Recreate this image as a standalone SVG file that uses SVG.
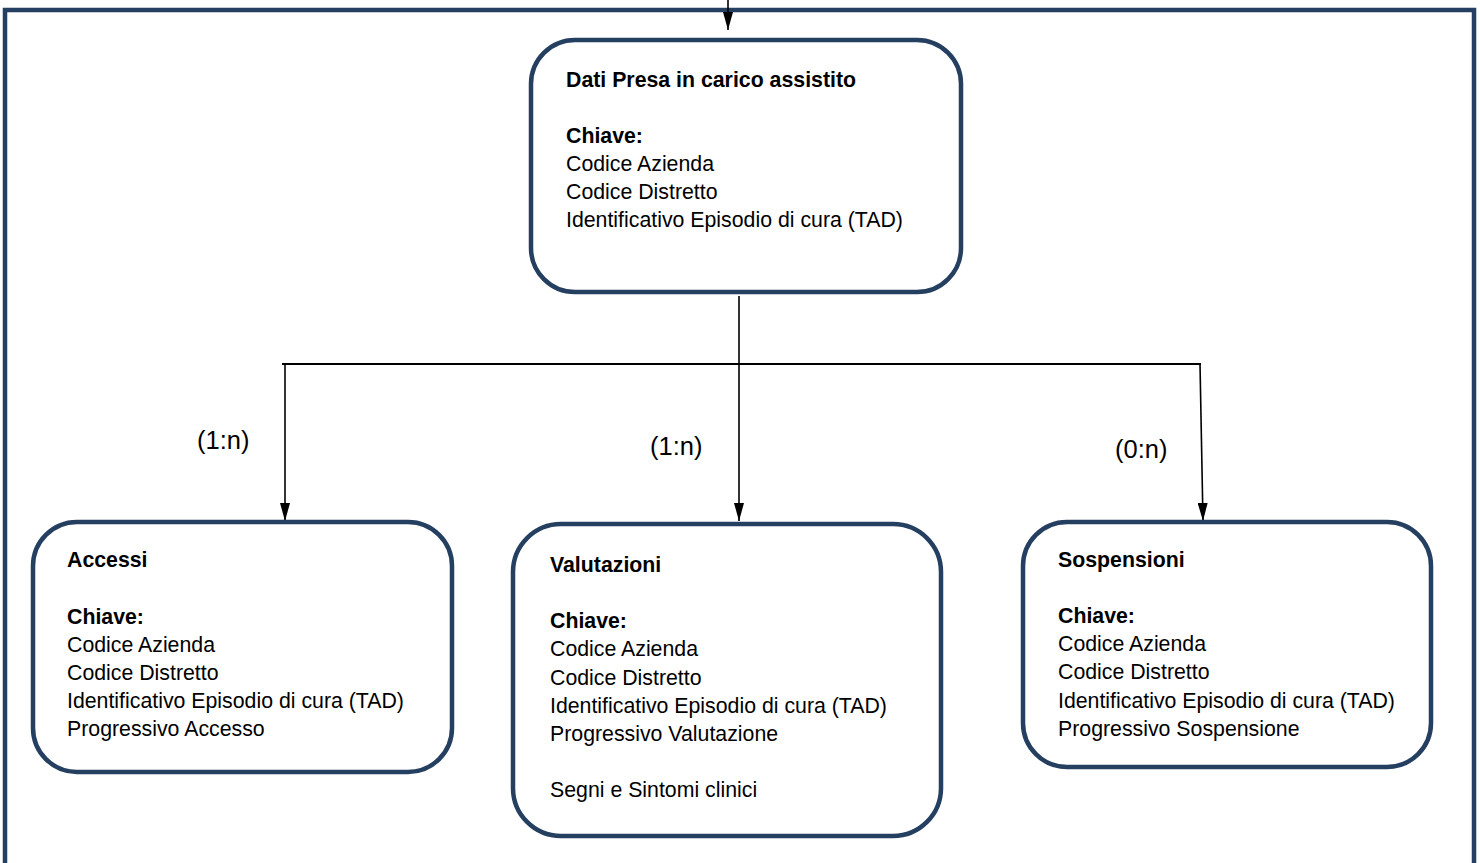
<svg xmlns="http://www.w3.org/2000/svg" width="1480" height="863" viewBox="0 0 1480 863">
<style>
.box{fill:#fff;stroke:#243F60;stroke-width:4.5}
.t{font-family:"Liberation Sans",Arial,sans-serif;font-size:21.3px;fill:#000}
.b{font-weight:bold}
.lbl{font-size:25.5px}
.ln{stroke:#000;stroke-width:1.6;fill:none}
.lh{stroke:#000;stroke-width:2.2;fill:none}
</style>
<defs>
<marker id="ah" viewBox="0 0 18 10" refX="18" refY="5" markerWidth="18" markerHeight="10" markerUnits="userSpaceOnUse" orient="auto">
<path d="M0,0 L18,5 L0,10 z" fill="#000"/>
</marker>
</defs>
<rect x="5" y="10" width="1469" height="880" fill="#fff" stroke="#243F60" stroke-width="4.5"/>
<g id="connectors">
<line class="ln" x1="728" y1="0" x2="728" y2="30" marker-end="url(#ah)"/>
<line class="ln" x1="739" y1="296" x2="739" y2="521" marker-end="url(#ah)"/>
<line class="lh" x1="282" y1="364" x2="1201" y2="364"/>
<line class="ln" x1="285" y1="364" x2="285" y2="521" marker-end="url(#ah)"/>
<line class="ln" x1="1200" y1="364" x2="1203" y2="521" marker-end="url(#ah)"/>
<text class="t lbl" x="197" y="449">(1:n)</text>
<text class="t lbl" x="650" y="455">(1:n)</text>
<text class="t lbl" x="1115" y="458">(0:n)</text>
</g>
<g id="node-dati">
<rect class="box" x="531" y="40" width="430" height="252" rx="44"/>
<text class="t b" x="566" y="87">Dati Presa in carico assistito</text>
<text class="t b" x="566" y="143">Chiave:</text>
<text class="t" x="566" y="171">Codice Azienda</text>
<text class="t" x="566" y="199">Codice Distretto</text>
<text class="t" x="566" y="227">Identificativo Episodio di cura (TAD)</text>
</g>
<g id="node-accessi">
<rect class="box" x="33" y="522" width="419" height="250" rx="44"/>
<text class="t b" x="67" y="567">Accessi</text>
<text class="t b" x="67" y="624">Chiave:</text>
<text class="t" x="67" y="652">Codice Azienda</text>
<text class="t" x="67" y="680">Codice Distretto</text>
<text class="t" x="67" y="708">Identificativo Episodio di cura (TAD)</text>
<text class="t" x="67" y="736">Progressivo Accesso</text>
</g>
<g id="node-valutazioni">
<rect class="box" x="513" y="524" width="428" height="312" rx="48"/>
<text class="t b" x="550" y="572">Valutazioni</text>
<text class="t b" x="550" y="628">Chiave:</text>
<text class="t" x="550" y="656">Codice Azienda</text>
<text class="t" x="550" y="685">Codice Distretto</text>
<text class="t" x="550" y="713">Identificativo Episodio di cura (TAD)</text>
<text class="t" x="550" y="741">Progressivo Valutazione</text>
<text class="t" x="550" y="797">Segni e Sintomi clinici</text>
</g>
<g id="node-sospensioni">
<rect class="box" x="1023" y="522" width="408" height="245" rx="44"/>
<text class="t b" x="1058" y="567">Sospensioni</text>
<text class="t b" x="1058" y="623">Chiave:</text>
<text class="t" x="1058" y="651">Codice Azienda</text>
<text class="t" x="1058" y="679">Codice Distretto</text>
<text class="t" x="1058" y="708">Identificativo Episodio di cura (TAD)</text>
<text class="t" x="1058" y="736">Progressivo Sospensione</text>
</g>
</svg>
